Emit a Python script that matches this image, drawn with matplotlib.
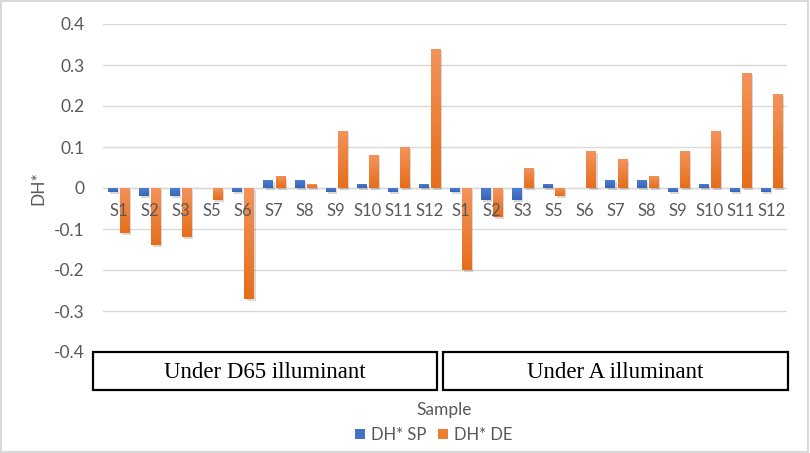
import numpy as np
import matplotlib
matplotlib.use("Agg")
import matplotlib.pyplot as plt
import matplotlib.patheffects as pe
from matplotlib.patches import Rectangle, Patch

samples = ["S1", "S2", "S3", "S5", "S6", "S7", "S8", "S9", "S10", "S11", "S12"]
groups = ["Under D65 illuminant", "Under A illuminant"]
sp_d65 = [-0.01, -0.02, -0.02, 0.0, -0.01, 0.02, 0.02, -0.01, 0.01, -0.01, 0.01]
de_d65 = [-0.11, -0.14, -0.12, -0.03, -0.27, 0.03, 0.01, 0.14, 0.08, 0.10, 0.34]
sp_a = [-0.01, -0.03, -0.03, 0.01, 0.0, 0.02, 0.02, -0.01, 0.01, -0.01, -0.01]
de_a = [-0.20, -0.07, 0.05, -0.02, 0.09, 0.07, 0.03, 0.09, 0.14, 0.28, 0.23]
series_names = ["DH* SP", "DH* DE"]
yticks = [0.4, 0.3, 0.2, 0.1, 0.0, -0.1, -0.2, -0.3, -0.4]

W, H = 810, 453
fig = plt.figure(figsize=(W / 100, H / 100), dpi=100)
fig.patch.set_facecolor("white")
TXT = "#595959"
FONT = "Lato"
FS = 12.5

left, right, top, bottom = 103, 787, 24, 352
ax = fig.add_axes([left / W, 1 - bottom / H, (right - left) / W, (bottom - top) / H])

labels = samples + samples
sp = np.array(sp_d65 + sp_a)
de = np.array(de_d65 + de_a)
x = np.arange(len(labels))
bw = 0.29
off = 0.195

blue_base, blue_top, blue_bot = "#4472C4", "#4F81D6", "#3A64B4"
orng_base, orng_top, orng_bot = "#ED7D31", "#F3935C", "#E66E1B"

shadow = [pe.SimplePatchShadow(offset=(1.5, -1.5), shadow_rgbFace="black", alpha=0.15), pe.Normal()]

def draw(xs, vals, base, ctop, cbot):
    bars = ax.bar(xs, vals, width=bw, color=base, zorder=2, linewidth=0)
    c1 = np.array(matplotlib.colors.to_rgb(cbot))
    c2 = np.array(matplotlib.colors.to_rgb(ctop))
    t = np.linspace(0, 1, 64)[:, None]
    grad = (c1[None, :] * (1 - t) + c2[None, :] * t)[:, None, :]
    for b in bars:
        b.set_path_effects(shadow)
        x0, y0 = b.get_x(), b.get_y()
        w, h = b.get_width(), b.get_height()
        if h == 0:
            continue
        ylo, yhi = min(y0, y0 + h), max(y0, y0 + h)
        im = ax.imshow(grad, extent=(x0, x0 + w, ylo, yhi), origin="lower",
                       aspect="auto", zorder=3, interpolation="bilinear")
        im.set_clip_path(b)
    return bars

b1 = draw(x - off, sp, blue_base, blue_top, blue_bot)
b2 = draw(x + off, de, orng_base, orng_top, orng_bot)

ax.set_xlim(-0.5, len(labels) - 0.5)
ax.set_ylim(-0.4, 0.4)
ax.set_yticks(yticks)
ax.set_yticklabels([f"{v:g}" for v in yticks], fontsize=FS, color=TXT, family=FONT)
ax.tick_params(axis="y", length=0, pad=13)
ax.set_xticks([])
for s in ax.spines.values():
    s.set_visible(False)
ax.grid(axis="y", color="#D9D9D9", linewidth=1.0, zorder=0)
ax.set_axisbelow(True)
ax.axhline(0, color="#D9D9D9", linewidth=1.0, zorder=1)

for xi, lab in zip(x, labels):
    ax.annotate(lab, (xi, 0), xytext=(0, -16.5), textcoords="offset points",
                ha="center", va="center", fontsize=12, color=TXT, family=FONT, zorder=5)

fig.text(38 / W, 1 - 188 / H, "DH*", rotation=90, ha="center", va="center",
         fontsize=FS, color=TXT, family=FONT)

boxes = [(93, 437), (443, 788)]
for (bx0, bx1), g in zip(boxes, groups):
    r = Rectangle((bx0 / W, 1 - 390 / H), (bx1 - bx0) / W, 38 / H, transform=fig.transFigure,
                  fill=False, edgecolor="black", linewidth=1.6)
    fig.add_artist(r)
    fig.text((bx0 + bx1) / 2 / W, 1 - 372 / H, g, ha="center", va="center",
             fontsize=16.5, family="Liberation Serif", color="black")

fig.text(444 / W, 1 - 410 / H, "Sample", ha="center", va="center",
         fontsize=FS, color=TXT, family=FONT)

handles = [Patch(facecolor=blue_base), Patch(facecolor=orng_base)]
leg = fig.legend(handles, series_names, loc="center", bbox_to_anchor=(434 / W, 1 - 435 / H),
                 ncol=2, frameon=False, handlelength=0.6, handleheight=0.6,
                 handletextpad=0.35, columnspacing=0.7, prop={"family": FONT, "size": 12})
for t in leg.get_texts():
    t.set_color(TXT)

border = Rectangle((0.001, 0.002), 0.997, 0.995, transform=fig.transFigure, fill=False,
                   edgecolor="#D9D9D9", linewidth=1.5)
fig.add_artist(border)

fig.savefig("out.png", dpi=100)
